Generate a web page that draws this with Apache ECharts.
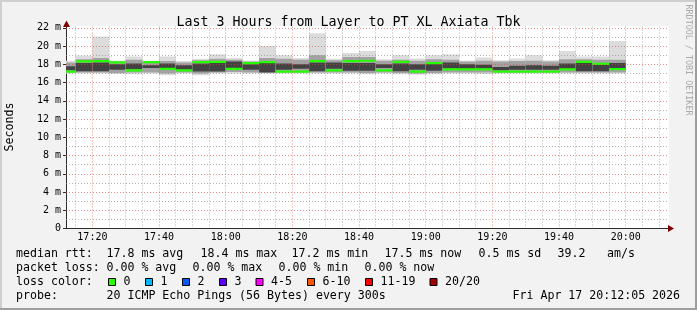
<!DOCTYPE html>
<html><head><meta charset="utf-8">
<script src="https://cdn.jsdelivr.net/npm/echarts@6/dist/echarts.min.js"></script>
<style>html,body{margin:0;padding:0;background:#f2f2f2}#c{width:697px;height:310px}</style>
</head><body><div id="c"></div>
<script>
// ---- data (ms), one 5-minute slot per entry, labelled by slot end time ----
const slotEnds = ['17:15','17:20','17:25','17:30','17:35','17:40','17:45','17:50','17:55','18:00',
  '18:05','18:10','18:15','18:20','18:25','18:30','18:35','18:40','18:45','18:50','18:55','19:00',
  '19:05','19:10','19:15','19:20','19:25','19:30','19:35','19:40','19:45','19:50','19:55','20:00'];
const rttMax = [18.4,18.95,21.05,18.4,18.85,18.4,18.85,18.35,18.6,19.1,
  18.7,18.4,20.0,19.0,18.7,21.4,18.6,19.25,19.45,18.55,19.0,18.65,
  19.0,19.1,18.4,18.75,18.45,18.65,19.0,18.45,19.45,18.85,18.85,20.55];
const rttMin = [17.0,17.0,17.0,16.95,16.9,17.0,16.8,17.0,16.8,17.0,
  17.0,17.0,17.0,17.0,17.0,17.0,17.0,17.0,16.9,17.0,16.9,16.85,
  16.9,17.0,17.0,16.95,17.0,17.0,17.0,17.0,17.0,17.0,17.0,17.0];
const bandHi = [18.2,18.55,18.7,18.3,18.5,18.3,18.35,18.2,18.45,18.6,
  18.5,18.3,18.7,18.6,18.5,19.0,18.45,18.8,18.8,18.4,18.5,18.4,
  18.55,18.5,18.3,18.4,18.3,18.35,18.4,18.3,18.55,18.55,18.5,18.5];
const bandLo = [17.1,17.1,17.1,17.05,17.1,17.1,17.0,17.1,17.0,17.1,
  17.15,17.1,17.1,17.1,17.1,17.1,17.1,17.1,17.05,17.1,17.05,17.0,
  17.05,17.1,17.1,17.1,17.1,17.1,17.1,17.1,17.1,17.1,17.1,17.1];
const coreHi = [17.8,18.15,18.2,18.0,18.1,17.9,18.1,17.9,18.1,18.15,
  18.3,18.0,18.15,18.1,18.0,18.2,18.2,18.15,18.15,18.0,18.1,18.0,
  18.05,18.2,18.0,17.95,17.7,17.85,17.9,17.85,18.1,18.15,18.0,18.15];
const coreLo = [17.35,17.25,17.25,17.4,17.45,17.6,17.55,17.4,17.2,17.2,
  17.6,17.4,17.1,17.4,17.5,17.25,17.5,17.3,17.3,17.6,17.25,17.4,
  17.3,17.55,17.5,17.55,17.35,17.4,17.4,17.4,17.5,17.25,17.25,17.55];
const rttMedian = [17.22,18.33,18.35,18.22,17.35,18.25,17.5,17.35,18.25,18.28,
  17.5,18.15,18.25,17.22,17.22,18.35,17.35,18.35,18.4,17.35,18.28,17.22,
  18.15,17.45,17.45,17.45,17.22,17.22,17.22,17.22,17.45,18.28,18.05,17.48];

const xTickLabels = ['17:20','17:40','18:00','18:20','18:40','19:00','19:20','19:40','20:00'];
const yTickValues = [0,2,4,6,8,10,12,14,16,18,20,22];

const titleText = 'Last 3 Hours from Layer to PT XL Axiata Tbk';
const rttStats = [['17.8 ms avg',106.5],['18.4 ms max',200.5],['17.2 ms min',291.5],['17.5 ms now',384.5],['0.5 ms sd',478.5],['39.2',557.5],['am/s',607]];
const lossStats = [['0.00 % avg',106.5],['0.00 % max',192.5],['0.00 % min',278.5],['0.00 % now',364.5]];
const lossLabels = ['0','1','2','3','4-5','6-10','11-19','20/20'];
const lossColors = ['#26ff00','#00b8ff','#0059ff','#5e00ff','#ff00ff','#ff5500','#ff0000','#a10000'];
const lossBoxX = [108.5,145.5,182.5,219.5,256,307.5,365.5,430];
const probeText = '20 ICMP Echo Pings (56 Bytes) every 300s';
const dateText = 'Fri Apr 17 20:12:05 2026';

// ---- helpers ----
const toMin = s => { const [h,m] = s.split(':').map(Number); return (h-17)*60+m; };
const X_MIN = 12 + 5/60;                 // 17:12:05
const PLOT_W = 603;
const X_MAX = X_MIN + PLOT_W * 180/600;  // 600 px = 3 hours
const Y_MAX = 22.2;
const FONT = '"DejaVu Sans Mono", monospace';

const smokeData = slotEnds.map((e,i) => [toMin(e)-5, toMin(e), rttMax[i], rttMin[i], bandHi[i], bandLo[i], coreHi[i], coreLo[i]]);
const medianData = slotEnds.map((e,i) => [toMin(e)-5, toMin(e), rttMedian[i]]);

const gridMinor = 'rgba(130,130,130,0.6)';
const gridMajor = 'rgba(222,70,70,0.6)';
const markData = [];
for (let v = 15; v < X_MAX; v += 5) markData.push({xAxis: v, lineStyle: {color: v % 20 === 0 ? gridMajor : gridMinor, type: [1,2], width: 1}});
for (let v = 1; v <= 22; v++) markData.push({yAxis: v, lineStyle: {color: v % 2 === 0 ? gridMajor : gridMinor, type: [1,2], width: 1}});

function rect(api, x0, x1, lo, hi, fill) {
  const a = api.coord([x0, hi]), b = api.coord([x1, lo]);
  return {type: 'rect', shape: {x: a[0], y: a[1], width: b[0]-a[0], height: b[1]-a[1]}, style: {fill: fill}};
}

const legendText = [];
function txt(x, y, s, extra) {
  legendText.push(Object.assign({type: 'text', x: x, y: y, silent: true,
    style: {text: s, font: '11.6px ' + FONT, fill: '#000', verticalAlign: 'middle', align: 'left'}}, extra || {}));
}
txt(16, 253.5, 'median rtt:');
rttStats.forEach(s => txt(s[1], 253.5, s[0]));
txt(16, 267.5, 'packet loss:');
lossStats.forEach(s => txt(s[1], 267.5, s[0]));
txt(16, 281.5, 'loss color:');
lossLabels.forEach((l, i) => {
  legendText.push({type: 'rect', silent: true, shape: {x: lossBoxX[i], y: 278.5, width: 7, height: 7},
    style: {fill: lossColors[i], stroke: '#000', lineWidth: 1}});
  txt(lossBoxX[i] + 15, 281.5, l);
});
txt(16, 295.5, 'probe:');
txt(106.5, 295.5, probeText);
txt(512.5, 295.5, dateText);

const chart = echarts.init(document.getElementById('c'), null, {renderer: 'canvas'});
chart.setOption({
  animation: false,
  backgroundColor: '#f2f2f2',
  grid: {left: 66, top: 26, width: PLOT_W, height: 202.5, show: true, backgroundColor: '#ffffff', borderWidth: 0},
  xAxis: {
    type: 'value', min: X_MIN, max: X_MAX,
    axisLine: {show: true, lineStyle: {color: '#2c2c2c', width: 1}},
    axisTick: {show: false},
    splitLine: {show: false},
    axisLabel: {customValues: xTickLabels.map(toMin), formatter: v => xTickLabels[xTickLabels.map(toMin).indexOf(v)] || '',
      color: '#000', fontFamily: FONT, fontSize: 10, margin: 4}
  },
  yAxis: {
    type: 'value', min: 0, max: Y_MAX,
    axisLine: {show: true, onZero: false, lineStyle: {color: '#2c2c2c', width: 1}},
    axisTick: {show: true, customValues: yTickValues, length: 3, lineStyle: {color: '#2c2c2c'}},
    splitLine: {show: false},
    axisLabel: {customValues: yTickValues, formatter: v => v === 0 ? '0' : v + ' m',
      color: '#000', fontFamily: FONT, fontSize: 10, margin: 5}
  },
  title: {text: titleText, left: 'center', top: 11, textStyle: {fontFamily: FONT, fontSize: 13.3, fontWeight: 'normal', color: '#000'}},
  graphic: [
    {type: 'rect', silent: true, z: -10, shape: {x: 0, y: 0, width: 697, height: 2}, style: {fill: '#cfcfcf'}},
    {type: 'rect', silent: true, z: -10, shape: {x: 0, y: 0, width: 2, height: 310}, style: {fill: '#cfcfcf'}},
    {type: 'rect', silent: true, z: -10, shape: {x: 0, y: 308, width: 697, height: 2}, style: {fill: '#9e9e9e'}},
    {type: 'rect', silent: true, z: -10, shape: {x: 695, y: 0, width: 2, height: 310}, style: {fill: '#9e9e9e'}},
    {type: 'text', silent: true, x: 9.5, y: 127, rotation: Math.PI/2,
      style: {text: 'Seconds', font: '11.6px ' + FONT, fill: '#000', align: 'center', verticalAlign: 'middle'}},
    {type: 'text', silent: true, x: 688, y: 60, rotation: -Math.PI/2,
      style: {text: 'RRDTOOL / TOBI OETIKER', font: '8.4px ' + FONT, fill: '#a8a8a8', align: 'center', verticalAlign: 'middle'}},
    {type: 'polygon', silent: true, z: 50, shape: {points: [[66.5, 20.5], [63, 27], [70, 27]]}, style: {fill: '#7f0000'}},
    {type: 'polygon', silent: true, z: 50, shape: {points: [[674, 228.5], [668, 225], [668, 232]]}, style: {fill: '#7f0000'}}
  ].concat(legendText),
  series: [
    {
      type: 'custom', z: 2, clip: true, data: smokeData,
      encode: {x: [0, 1], y: [2, 3]},
      renderItem: (params, api) => {
        const x0 = Math.max(api.value(0), X_MIN), x1 = api.value(1);
        return {type: 'group', children: [
          rect(api, x0, x1, api.value(3), api.value(2), '#dcdcdc'),
          rect(api, x0, x1, api.value(5), api.value(4), '#a2a2a2'),
          rect(api, x0, x1, api.value(7), api.value(6), '#424242')
        ]};
      }
    },
    {
      type: 'line', z: 3, data: [], silent: true,
      markLine: {silent: true, symbol: ['none', 'none'], label: {show: false}, animation: false, data: markData}
    },
    {
      type: 'custom', z: 4, clip: true, data: medianData,
      encode: {x: [0, 1], y: 2},
      renderItem: (params, api) => {
        const x0 = Math.max(api.value(0), X_MIN), x1 = api.value(1);
        const a = api.coord([x0, api.value(2)]), b = api.coord([x1, api.value(2)]);
        return {type: 'rect', shape: {x: a[0], y: a[1] - 1, width: b[0] - a[0], height: 2.2}, style: {fill: '#26ff00'}};
      }
    }
  ]
});
</script></body></html>
